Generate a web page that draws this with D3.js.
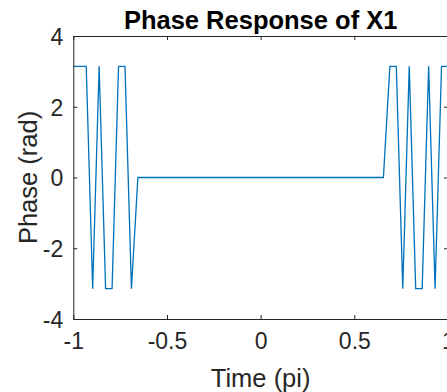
<!DOCTYPE html>
<html>
<head>
<meta charset="utf-8">
<script src="https://cdn.jsdelivr.net/npm/d3@7/dist/d3.min.js"></script>
<style>
html,body{margin:0;padding:0;background:#fff;overflow:hidden;}
svg{display:block;font-family:"Liberation Sans",Arial,Helvetica,sans-serif;}
</style>
</head>
<body>
<svg id="chart" width="447" height="392"></svg>
<script>
// Sample times (in units of pi), 59 samples from -1 to 1
const time = [
 -1.0000,-0.9655,-0.9310,-0.8966,-0.8621,-0.8276,-0.7931,-0.7586,-0.7241,-0.6897,
 -0.6552,-0.6207,-0.5862,-0.5517,-0.5172,-0.4828,-0.4483,-0.4138,-0.3793,-0.3448,
 -0.3103,-0.2759,-0.2414,-0.2069,-0.1724,-0.1379,-0.1034,-0.0690,-0.0345, 0.0000,
  0.0345, 0.0690, 0.1034, 0.1379, 0.1724, 0.2069, 0.2414, 0.2759, 0.3103, 0.3448,
  0.3793, 0.4138, 0.4483, 0.4828, 0.5172, 0.5517, 0.5862, 0.6207, 0.6552, 0.6897,
  0.7241, 0.7586, 0.7931, 0.8276, 0.8621, 0.8966, 0.9310, 0.9655, 1.0000
];
// Phase values (rad)
const phase = [
  3.1416, 3.1416, 3.1416,-3.1416, 3.1416,-3.1416,-3.1416, 3.1416, 3.1416,-3.1416,
  0, 0, 0, 0, 0, 0, 0, 0, 0, 0,
  0, 0, 0, 0, 0, 0, 0, 0, 0, 0,
  0, 0, 0, 0, 0, 0, 0, 0, 0, 0,
  0, 0, 0, 0, 0, 0, 0, 0, 0, 3.1416,
  3.1416,-3.1416, 3.1416,-3.1416,-3.1416, 3.1416,-3.1416, 3.1416, 3.1416
];
const xTicks = [-1, -0.5, 0, 0.5, 1];
const xTickLabels = ["-1", "-0.5", "0", "0.5", "1"];
const yTicks = [-4, -2, 0, 2, 4];
const yTickLabels = ["-4", "-2", "0", "2", "4"];
const titleText = "Phase Response of X1";
const xLabelText = "Time (pi)";
const yLabelText = "Phase (rad)";

const svg = d3.select("#chart");
const L = 73.3, R = 448, T = 36, B = 319;
const x = d3.scaleLinear().domain([-1, 1]).range([L, R]);
const y = d3.scaleLinear().domain([-4, 4]).range([B, T]);
const axisColor = "#262626";
const tickLen = 4;

// line
const data = time.map((t, i) => [t, phase[i]]);
svg.append("path")
  .datum(data)
  .attr("fill", "none")
  .attr("stroke", "#0072BD")
  .attr("stroke-width", 1.3)
  .attr("stroke-linejoin", "miter")
  .attr("d", d3.line().x(d => x(d[0])).y(d => y(d[1])));

const fmtX = (d) => xTickLabels[xTicks.indexOf(d)];
const fmtY = (d) => yTickLabels[yTicks.indexOf(d)];

const gBottom = svg.append("g").attr("transform", `translate(0,${B})`)
  .call(d3.axisBottom(x).tickValues(xTicks).tickFormat(fmtX).tickSizeInner(-tickLen).tickSizeOuter(0));
const gTop = svg.append("g").attr("transform", `translate(0,${T})`)
  .call(d3.axisTop(x).tickValues(xTicks).tickFormat("").tickSizeInner(-tickLen).tickSizeOuter(0));
const gLeft = svg.append("g").attr("transform", `translate(${L},0)`)
  .call(d3.axisLeft(y).tickValues(yTicks).tickFormat(fmtY).tickSizeInner(-tickLen).tickSizeOuter(0));
const gRight = svg.append("g").attr("transform", `translate(${R},0)`)
  .call(d3.axisRight(y).tickValues(yTicks).tickFormat("").tickSizeInner(-tickLen).tickSizeOuter(0));

[gBottom, gTop, gLeft, gRight].forEach(g => {
  g.select(".domain").attr("stroke", axisColor).attr("stroke-width", 1);
  g.selectAll(".tick line").attr("stroke", axisColor).attr("stroke-width", 1);
  g.selectAll(".tick text").attr("fill", axisColor).attr("font-size", 23)
   .attr("font-family", "'Liberation Sans', Arial, Helvetica, sans-serif");
});
gBottom.selectAll(".tick text").attr("y", 30).attr("dy", "0");
gLeft.selectAll(".tick text").attr("x", -10).attr("dy", "0.36em");

// title
svg.append("text")
  .attr("x", (L + R) / 2).attr("y", 28.5)
  .attr("text-anchor", "middle")
  .attr("font-size", 25.5).attr("font-weight", "bold").attr("fill", "#000")
  .text(titleText);

// x label
svg.append("text")
  .attr("x", (L + R) / 2).attr("y", 387)
  .attr("text-anchor", "middle")
  .attr("font-size", 25.5).attr("fill", axisColor)
  .text(xLabelText);

// y label
svg.append("text")
  .attr("transform", `translate(36.5,${(T + B) / 2}) rotate(-90)`)
  .attr("text-anchor", "middle")
  .attr("font-size", 25.5).attr("fill", axisColor)
  .text(yLabelText);
</script>
</body>
</html>
